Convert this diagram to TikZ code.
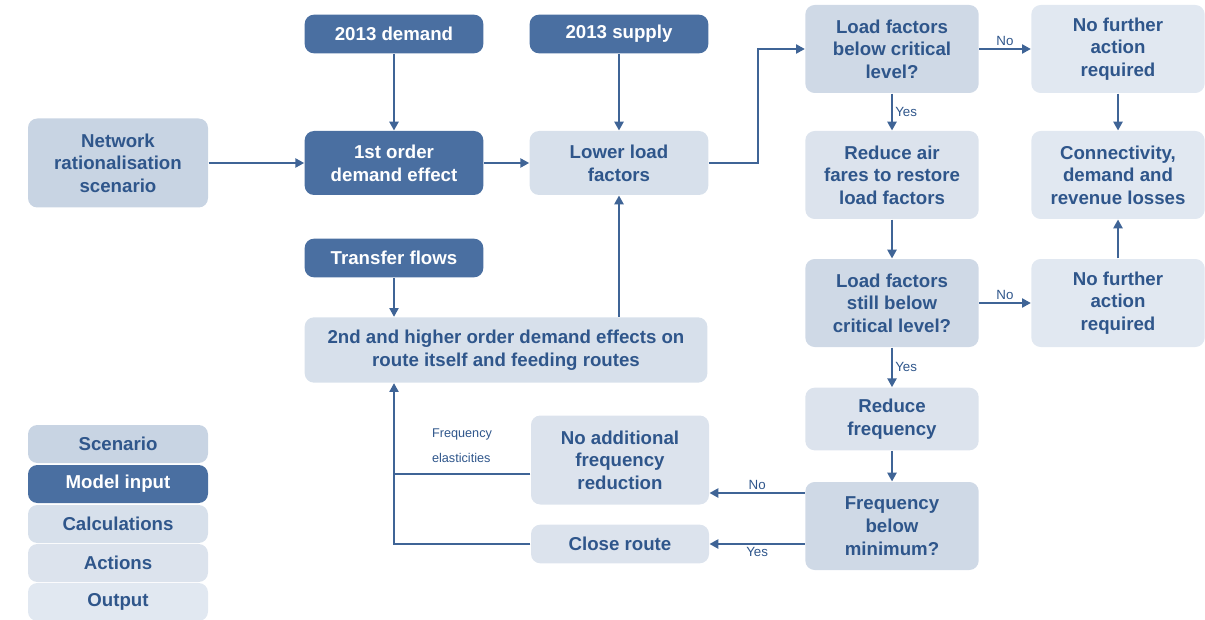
\documentclass[tikz,border=0pt]{standalone}
\usepackage{fontspec}
\setmainfont{Liberation Sans}
\usetikzlibrary{arrows.meta}

\definecolor{txtblue}{RGB}{47,86,139}
\definecolor{inblue}{RGB}{74,111,161}
\definecolor{scenfill}{RGB}{200,212,227}
\definecolor{qfill}{RGB}{207,217,230}
\definecolor{calcfill}{RGB}{215,224,235}
\definecolor{actfill}{RGB}{220,227,237}
\definecolor{outfill}{RGB}{225,232,241}
\definecolor{linkblue}{RGB}{63,100,150}

\tikzset{every picture/.style={line width=0.9pt}}
\tikzset{
  blk/.style={rounded corners=7pt, inner sep=0pt, align=center, text=txtblue,
    font=\bfseries\fontsize{14}{17}\selectfont},
  scen/.style={blk, fill=scenfill},
  inp/.style={blk, fill=inblue, text=white},
  calc/.style={blk, fill=calcfill},
  quest/.style={blk, fill=qfill},
  act/.style={blk, fill=actfill},
  outp/.style={blk, fill=outfill},
  slim/.style={minimum width=134pt, minimum height=29pt},
  mid/.style={minimum width=134pt, minimum height=48pt},
  tall/.style={minimum width=130pt, minimum height=66pt},
  link/.style={draw=linkblue, line width=0.9pt},
  arr/.style={link, -{Triangle[length=6.5pt,width=7pt]}},
  lbl/.style={text=txtblue, font=\fontsize{10}{12}\selectfont, inner sep=2pt},
}

\begin{document}
\begin{tikzpicture}[x=0.75pt,y=0.75pt,yscale=-1,xscale=1]
\path[use as bounding box] (0,0) rectangle (1205,620);

%Inputs and scenario
\node[scen, minimum width=135pt, minimum height=66.75pt] (net) at (118,163) {Network\\rationalisation\\scenario};
\node[inp, slim] (dem) at (394,34) {2013 demand};
\node[inp, slim] (sup) at (619,34) {2013 supply};
\node[inp, mid] (first) at (394,163) {1st order\\demand effect};
\node[calc, mid] (lower) at (619,163) {Lower load\\factors};
\node[inp, slim] (trans) at (394,258) {Transfer flows};
\node[calc, minimum width=302pt, minimum height=49pt] (hi) at (506,350) {2nd and higher order demand effects on\\route itself and feeding routes};

%Decisions and actions
\node[quest, tall] (lfb) at (892,49) {Load factors\\below critical\\level?};
\node[outp, tall] (nfa1) at (1118,49) {No further\\action\\required};
\node[act, tall] (fares) at (892,175) {Reduce air\\fares to restore\\load factors};
\node[outp, tall] (conn) at (1118,175) {Connectivity,\\demand and\\revenue losses};
\node[quest, tall] (lfs) at (892,303) {Load factors\\still below\\critical level?};
\node[outp, tall] (nfa2) at (1118,303) {No further\\action\\required};
\node[act, minimum width=130pt, minimum height=47pt] (redf) at (892,419) {Reduce\\frequency};
\node[quest, tall] (fbm) at (892,526) {Frequency\\below\\minimum?};
\node[act, minimum width=133.5pt, minimum height=66.75pt] (noadd) at (620,460) {No additional\\frequency\\reduction};
\node[act, minimum width=133.5pt, minimum height=29pt] (close) at (620,544) {Close route};

%Legend
\node[outp, minimum width=135pt, minimum height=28.5pt] (lgout) at (118,602) {Output};
\node[act, minimum width=135pt, minimum height=28.5pt] (lgact) at (118,563) {Actions};
\node[calc, minimum width=135pt, minimum height=28.5pt] (lgcalc) at (118,524) {Calculations};
\node[inp, minimum width=135pt, minimum height=28.5pt] (lginp) at (118,484) {Model input};
\node[scen, minimum width=135pt, minimum height=28.5pt] (lgscen) at (118,444) {Scenario};

%Connectors
\coordinate (nolvl) at (0,493);
\coordinate (fbk) at (0,474);
\draw[arr] (net) -- (first);
\draw[arr] (first) -- (lower);
\draw[arr] (dem) -- (first);
\draw[arr] (sup) -- (lower);
\draw[arr] (lower.east) -- ++(49,0) |- (lfb.west);
\draw[arr] (lfb) -- node[lbl, above] {No} (nfa1);
\draw[arr] (lfb) -- node[lbl, right] {Yes} (fares);
\draw[arr] (nfa1) -- (conn);
\draw[arr] (fares) -- (lfs);
\draw[arr] (lfs) -- node[lbl, above] {No} (nfa2);
\draw[arr] (nfa2) -- (conn);
\draw[arr] (lfs) -- node[lbl, right] {Yes} (redf);
\draw[arr] (redf) -- (fbm);
\draw[arr] (fbm.west |- nolvl) -- node[lbl, above] {No} (noadd.east |- nolvl);
\draw[arr] (fbm.west |- close.east) -- node[lbl, below] {Yes} (close.east);
\draw[link] (noadd.west |- fbk) -- (trans.south |- fbk);
\draw[arr] (close.west) -| (hi.south -| trans.south);
\draw[arr] (trans.south) -- (trans.south |- hi.north);
\draw[arr] (lower.south |- hi.north) -- (lower.south);

% Text Node
\node[lbl, align=left, font=\fontsize{9.5}{18.75}\selectfont] (elas) at (462,446) {Frequency\\elasticities};

\end{tikzpicture}
\end{document}
